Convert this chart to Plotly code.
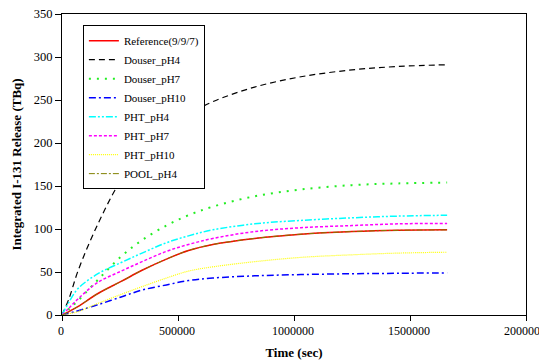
import plotly.graph_objects as go

time_s = [0, 30000, 70000, 155000, 255000, 345000, 450000, 545000, 650000, 830000, 1030000, 1250000, 1450000, 1660000]

reference = [0, 4, 10, 25, 39, 52, 65, 75, 82, 89, 94, 97, 98.5, 99]
douser_ph4 = [0, 19, 52, 106, 157, 187, 213, 233, 248, 265, 277, 285, 289, 291]
douser_ph7 = [0, 7, 17, 41, 68, 87, 104, 116, 126, 138, 146, 151, 153, 154]
douser_ph10 = [0, 2, 5, 12, 21, 29, 35, 40, 43, 45.5, 47, 48, 48.5, 49]
pht_ph4 = [0, 15, 31, 48, 61, 72, 84, 92, 99, 106, 110, 113, 115, 116]
pht_ph7 = [0, 8, 19, 38, 51, 62, 74, 82, 89, 97, 101.5, 104, 106, 106.5]
pht_ph10 = [0, 1.5, 4, 13.5, 24, 33, 43, 51, 56, 62, 67, 70, 72, 73]
pool_ph4 = [0, 4, 10, 25, 39, 52, 65, 75, 82, 89, 94, 97, 98.5, 99]

series = [
    ("Reference(9/9/7)", reference, "#ff0000", "solid", 1.5),
    ("Douser_pH4", douser_ph4, "#000000", "6px,4px", 1.2),
    ("Douser_pH7", douser_ph7, "#22ee22", "2px,6px", 2),
    ("Douser_pH10", douser_ph10, "#0000ff", "7px,3px,2px,3px", 1.5),
    ("PHT_pH4", pht_ph4, "#00ffff", "7px,2px,2px,2px,2px,2px", 1.5),
    ("PHT_pH7", pht_ph7, "#ff00ff", "3px,2px", 1.5),
    ("PHT_pH10", pht_ph10, "#ffff00", "1px,1px", 1.2),
    ("POOL_pH4", pool_ph4, "#808000", "6px,2px,2px,2px", 1.0),
]

fig = go.Figure()
for name, vals, color, dash, w in series:
    fig.add_trace(go.Scatter(
        x=time_s, y=vals, name=name, mode="lines",
        line=dict(color=color, dash=dash, width=w, shape="spline"),
    ))

font_family = "Liberation Serif"

fig.update_layout(
    width=539, height=352,
    margin=dict(l=54, r=21, t=6, b=45),
    paper_bgcolor="white", plot_bgcolor="white",
    font=dict(family=font_family, size=13, color="black"),
    showlegend=True,
    legend=dict(
        x=0.045, y=0.963, xanchor="left", yanchor="top",
        bgcolor="white", bordercolor="black", borderwidth=1,
        font=dict(family=font_family, size=11, color="black"),
        tracegroupgap=0,
    ),
    xaxis=dict(
        range=[0, 2000000], dtick=500000, tick0=0, tickformat="d",
        ticklabeloverflow="allow", automargin=False,
        tickfont=dict(family=font_family, size=12), ticklabelshift=-1,
        showline=True, linecolor="black", linewidth=1, mirror=True,
        ticks="outside", ticklen=5, tickcolor="black",
        showgrid=False, zeroline=False,
        title=dict(text="<b>Time (sec)</b>", font=dict(family=font_family, size=13), standoff=12),
    ),
    yaxis=dict(
        range=[0, 350], dtick=50, tick0=0, automargin=False,
        ticklabeloverflow="allow",
        tickfont=dict(family=font_family, size=12.5),
        showline=True, linecolor="black", linewidth=1, mirror=True,
        ticks="outside", ticklen=6, tickcolor="black",
        showgrid=False, zeroline=False,
        title=dict(text="<b>Integrated I-131 Release (TBq)</b>", font=dict(family=font_family, size=13), standoff=9),
    ),
)

fig.write_html("out.html")
